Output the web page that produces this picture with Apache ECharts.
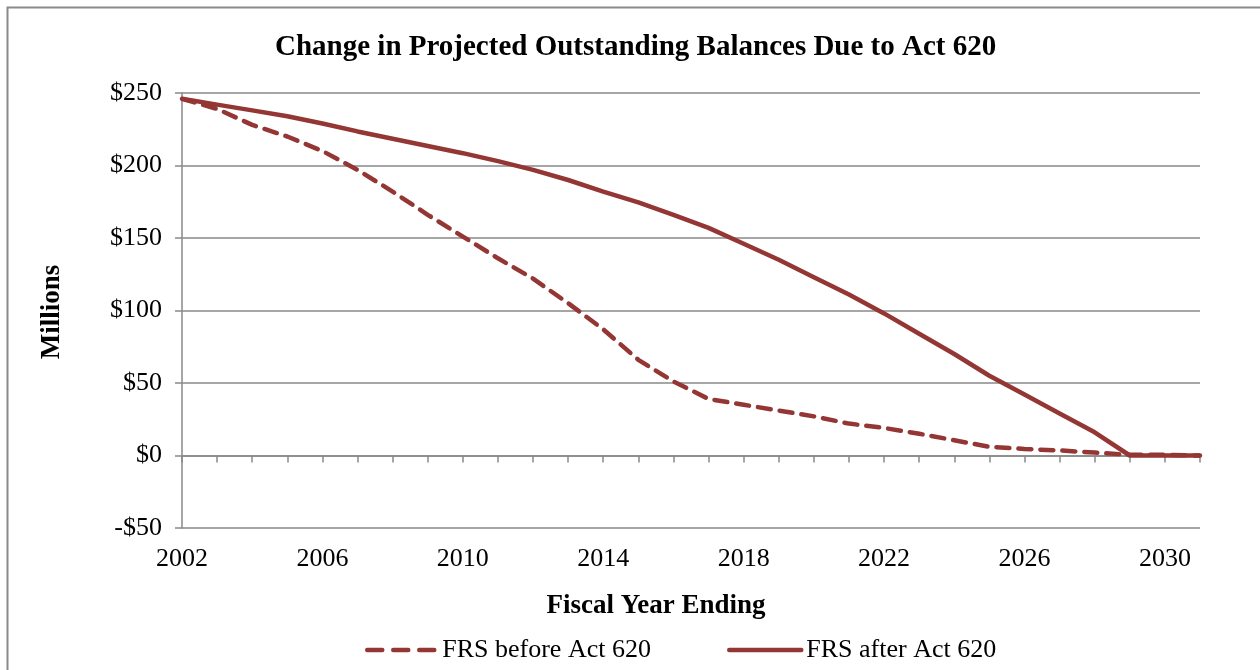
<!DOCTYPE html>
<html>
<head>
<meta charset="utf-8">
<script src="https://cdn.jsdelivr.net/npm/echarts@6/dist/echarts.min.js"></script>
<style>
  html, body { margin: 0; padding: 0; background: #fff; }
  #chart { width: 1260px; height: 670px; }
</style>
</head>
<body>
<div id="chart"></div>
<script>
// fiscal years on the x axis
const years = ["2002", "2003", "2004", "2005", "2006", "2007", "2008", "2009", "2010", "2011",
  "2012", "2013", "2014", "2015", "2016", "2017", "2018", "2019", "2020", "2021",
  "2022", "2023", "2024", "2025", "2026", "2027", "2028", "2029", "2030", "2031"];
// outstanding balance, millions
const beforeAct = [246, 239, 228, 220, 210, 197, 182, 166, 151, 136,
  122, 105, 87, 66, 51, 39, 35, 31, 27, 22,
  19, 15, 10.5, 6, 4.5, 3.5, 2, 0.5, 0.5, 0];
const afterAct = [246, 242, 238, 234, 229, 223.5, 218.5, 213.5, 208.5, 203,
  197, 190, 182, 174.5, 166, 157, 146, 135, 123, 111,
  98, 84, 70, 55, 42, 29, 16, 0, 0, 0];
// y axis range
const yMin = -50;
const yMax = 250;
const yStep = 50;

const lineColor = "#943634";
const gridColor = "#898989";
const serif = "Liberation Serif";

const legendBase = {
  top: 632, itemHeight: 5,
  itemStyle: { opacity: 0 },
  textStyle: { fontFamily: serif, fontSize: 26, color: "#000" }
};

const chart = echarts.init(document.getElementById("chart"));
chart.setOption({
  backgroundColor: "#fff",
  animation: false,
  title: {
    text: "Change in Projected Outstanding Balances Due to Act 620",
    left: 270,
    top: 28,
    textStyle: { fontFamily: serif, fontSize: 29, fontWeight: "bold", color: "#000" }
  },
  grid: { left: 182, right: 60, top: 93, bottom: 142 },
  // two legends so each item sits where the original puts it
  legend: [
    Object.assign({}, legendBase, {
      left: 360, itemWidth: 70, data: ["FRS before Act 620"],
      lineStyle: { width: 4.5, cap: "round", type: [15, 11] }
    }),
    Object.assign({}, legendBase, {
      left: 722, itemWidth: 72, data: ["FRS after Act 620"],
      lineStyle: { width: 4.5, cap: "round" }
    })
  ],
  xAxis: [
    {
      // labels along the bottom
      type: "category",
      data: years,
      boundaryGap: false,
      position: "bottom",
      axisLine: { show: false, onZero: false },
      axisTick: { show: false },
      axisLabel: {
        interval: 3, margin: 18,
        fontFamily: serif, fontSize: 26, color: "#000"
      },
      splitLine: { show: false }
    },
    {
      // the axis line with ticks sits at $0
      type: "category",
      data: years,
      boundaryGap: false,
      position: "bottom",
      axisLine: { show: true, onZero: true, lineStyle: { color: gridColor, width: 1.5 } },
      axisTick: { show: true, interval: 0, length: 7, lineStyle: { color: gridColor, width: 1.5 } },
      axisLabel: { show: false },
      splitLine: { show: false }
    }
  ],
  yAxis: {
    type: "value",
    min: yMin,
    max: yMax,
    interval: yStep,
    axisLine: { show: true, lineStyle: { color: gridColor, width: 1.5 } },
    axisTick: { show: true, length: 7, lineStyle: { color: gridColor, width: 1.5 } },
    axisLabel: {
      margin: 20,
      fontFamily: serif, fontSize: 26, color: "#000",
      formatter: v => (v < 0 ? "-$" + (-v) : "$" + v)
    },
    splitLine: { show: true, lineStyle: { color: gridColor, width: 1.5 } }
  },
  graphic: [
    {
      type: "rect",
      left: 5, top: 5,
      shape: { width: 1300, height: 700 },
      style: { fill: "none", stroke: "#8a8a8a", lineWidth: 2 },
      silent: true
    },
    {
      type: "text",
      x: 52, y: 312, rotation: Math.PI / 2,
      style: {
        text: "Millions", fontFamily: serif, fontSize: 27, fontWeight: "bold",
        fill: "#000", align: "center", verticalAlign: "middle"
      }
    },
    {
      type: "text",
      x: 656, y: 606,
      style: {
        text: "Fiscal Year Ending", fontFamily: serif, fontSize: 27, fontWeight: "bold",
        fill: "#000", align: "center", verticalAlign: "middle"
      }
    }
  ],
  series: [
    {
      name: "FRS before Act 620",
      type: "line",
      xAxisIndex: 0,
      data: beforeAct,
      symbol: "none",
      color: lineColor,
      lineStyle: { color: lineColor, width: 4.5, type: [13, 9], cap: "round" },
      z: 3
    },
    {
      name: "FRS after Act 620",
      type: "line",
      xAxisIndex: 0,
      data: afterAct,
      symbol: "none",
      color: lineColor,
      lineStyle: { color: lineColor, width: 4.5, type: "solid" },
      z: 4
    }
  ]
});
</script>
</body>
</html>
